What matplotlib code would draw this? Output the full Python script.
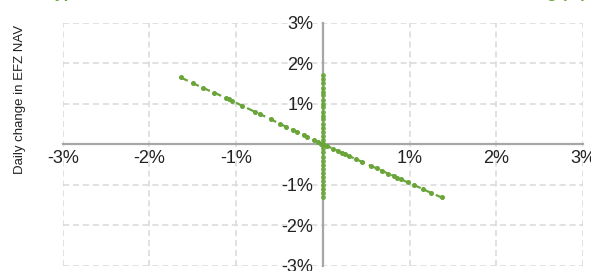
import matplotlib
matplotlib.use('Agg')
import matplotlib.pyplot as plt
from matplotlib.ticker import FuncFormatter

plt.rcParams['font.family'] = ['Liberation Sans', 'DejaVu Sans']

# daily change of the underlying (%) vs daily change in EFZ NAV (%)
hedged_x = [-1.64, -1.50, -1.38, -1.25, -1.12, -1.08, -1.05, -0.93, -0.78, -0.72,
            -0.60, -0.50, -0.42, -0.35, -0.30, -0.22, -0.18, -0.10, -0.06, -0.02,
            0.00, 0.05, 0.12, 0.18, 0.22, 0.26, 0.30, 0.38, 0.45, 0.55,
            0.62, 0.68, 0.75, 0.82, 0.86, 0.90, 0.98, 1.05, 1.15, 1.25, 1.37]
hedged_y = [1.65, 1.51, 1.39, 1.27, 1.15, 1.13, 1.08, 0.95, 0.80, 0.74,
            0.62, 0.51, 0.43, 0.36, 0.31, 0.23, 0.18, 0.10, 0.06, 0.02,
            0.00, -0.04, -0.11, -0.17, -0.21, -0.25, -0.29, -0.36, -0.43, -0.53,
            -0.59, -0.65, -0.72, -0.78, -0.82, -0.86, -0.94, -1.00, -1.10, -1.20, -1.31]

flat_x = [0.0] * 31
flat_y = [1.70, 1.60, 1.52, 1.40, 1.30, 1.22, 1.10, 1.00, 0.92, 0.80,
          0.70, 0.62, 0.50, 0.40, 0.30, 0.20, 0.10, 0.00, -0.10, -0.20,
          -0.30, -0.40, -0.50, -0.60, -0.70, -0.80, -0.90, -1.00, -1.10, -1.20, -1.30]

x_ticks = [-3, -2, -1, 1, 2, 3]
y_ticks = [-3, -2, -1, 1, 2, 3]

green = '#6AA53A'
grid_c = '#D9D9D9'
axis_c = '#A6A6A6'

fig = plt.figure(figsize=(5.91, 2.71), dpi=100)
ax = fig.add_axes([0.1061, 0.0185, 0.8804, 0.8977])

ax.set_xlim(-3, 3)
ax.set_ylim(-3, 3)

# dashed grid incl. outer frame
for v in [-3, -2, -1, 1, 2, 3]:
    ax.axvline(v, color=grid_c, lw=1.1, ls=(0, (4, 2.5)), zorder=0)
    ax.axhline(v, color=grid_c, lw=1.1, ls=(0, (4, 2.5)), zorder=0)

ax.plot(flat_x, flat_y, color=green, alpha=0.8, lw=1.6, ls=(0, (3.5, 2)),
        marker='o', ms=2.6, zorder=3, clip_on=False)
ax.plot(hedged_x, hedged_y, color=green, lw=1.6, ls=(0, (3.5, 2)),
        marker='o', ms=2.6, zorder=4, clip_on=False)

for s in ['top', 'right']:
    ax.spines[s].set_visible(False)
for s in ['left', 'bottom']:
    ax.spines[s].set_position('zero')
    ax.spines[s].set_color(axis_c)
    ax.spines[s].set_linewidth(1.6)
    ax.spines[s].set_zorder(2)

pct = FuncFormatter(lambda v, p: '%d%%' % v)
ax.set_xticks(x_ticks)
ax.set_yticks(y_ticks)
ax.xaxis.set_major_formatter(pct)
ax.yaxis.set_major_formatter(pct)
ax.tick_params(axis='x', length=0, pad=4, labelsize=13, colors='#222222')
ax.tick_params(axis='y', length=0, pad=7, labelsize=13, colors='#222222')

fig.text(20 / 591, 1 - 99 / 271, 'Daily change in EFZ NAV', rotation=90,
         ha='center', va='center', fontsize=9.5, color='#222222')

# chart title, mostly cut off by the top edge as in the source
fig.text(43 / 591, 1.0 + 2.2 / 271,
         'Hypothetical EFZ NAV reaction vs. MSCI EAFE without rebalancing (%)',
         ha='left', va='baseline', fontsize=11.6, fontweight='bold', color=green)

fig.savefig('out.png', dpi=100)
